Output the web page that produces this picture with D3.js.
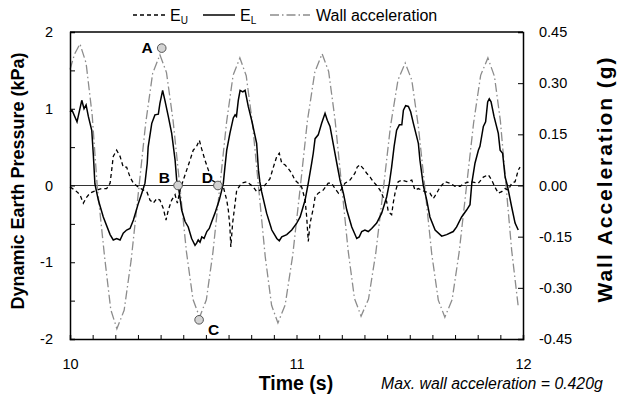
<!DOCTYPE html>
<html><head><meta charset="utf-8">
<script src="https://cdn.jsdelivr.net/npm/d3@7"></script>
<style>
body{margin:0;background:#fff;}
svg text{font-family:Arial,"Liberation Sans",sans-serif;}
</style></head>
<body><svg id="c" width="618" height="408"></svg>
<script>
// ---- data ----
const accTime = [10.000,10.020,10.044,10.071,10.098,10.120,10.153,10.180,10.207,10.239,10.270,10.302,10.334,10.365,10.397,10.426,10.455,10.485,10.514,10.543,10.572,10.602,10.631,10.661,10.691,10.720,10.750,10.778,10.806,10.834,10.862,10.890,10.918,10.950,10.983,11.016,11.048,11.081,11.113,11.142,11.170,11.199,11.228,11.256,11.285,11.318,11.350,11.383,11.415,11.448,11.480,11.509,11.538,11.568,11.597,11.626,11.655,11.687,11.718,11.750,11.782,11.813,11.845,11.874,11.900,11.925,11.950,11.979];
const accVal = [0.34,0.385,0.415,0.359,0.206,0.0,-0.211,-0.364,-0.42,-0.366,-0.219,-0.02,0.182,0.329,0.383,0.331,0.191,-0.002,-0.194,-0.334,-0.386,-0.335,-0.196,-0.006,0.184,0.323,0.374,0.322,0.180,-0.015,-0.209,-0.351,-0.403,-0.350,-0.206,-0.009,0.189,0.333,0.386,0.334,0.194,0.002,-0.191,-0.331,-0.383,-0.333,-0.198,-0.012,0.174,0.309,0.359,0.309,0.173,-0.014,-0.200,-0.336,-0.386,-0.335,-0.196,-0.006,0.184,0.323,0.374,0.32,0.19,0.0,-0.19,-0.355];

const elTime = [10.000,10.009,10.031,10.052,10.062,10.071,10.081,10.096,10.103,10.110,10.125,10.147,10.177,10.191,10.206,10.221,10.235,10.250,10.265,10.280,10.302,10.317,10.331,10.341,10.345,10.361,10.375,10.390,10.397,10.409,10.419,10.434,10.449,10.464,10.471,10.478,10.493,10.508,10.522,10.537,10.552,10.559,10.566,10.574,10.582,10.592,10.604,10.615,10.626,10.640,10.659,10.670,10.677,10.684,10.692,10.706,10.721,10.729,10.735,10.743,10.751,10.763,10.773,10.787,10.802,10.824,10.832,10.838,10.846,10.868,10.891,10.913,10.924,10.935,10.957,10.979,11.001,11.016,11.038,11.052,11.067,11.074,11.082,11.096,11.111,11.126,11.136,11.148,11.163,11.178,11.192,11.207,11.222,11.244,11.266,11.277,11.288,11.302,11.317,11.332,11.354,11.376,11.398,11.410,11.420,11.431,11.442,11.454,11.465,11.472,11.482,11.494,11.504,11.516,11.538,11.545,11.560,11.575,11.589,11.612,11.641,11.663,11.692,11.707,11.729,11.751,11.766,11.774,11.788,11.803,11.810,11.825,11.835,11.844,11.851,11.859,11.872,11.891,11.899,11.910,11.921,11.931,11.950,11.965,11.979];
const elVal = [0.96,0.98,0.83,1.11,1.00,1.05,0.90,0.72,0.40,0.02,-0.19,-0.41,-0.64,-0.71,-0.69,-0.71,-0.62,-0.58,-0.56,-0.45,-0.23,-0.10,0.03,0.29,0.50,0.81,0.92,0.93,1.07,1.24,1.11,0.90,0.68,0.33,0.07,0.00,-0.32,-0.47,-0.54,-0.69,-0.78,-0.75,-0.71,-0.74,-0.67,-0.69,-0.60,-0.56,-0.47,-0.36,-0.19,-0.06,0.03,0.24,0.46,0.68,0.88,0.92,0.90,1.11,1.24,1.22,1.24,1.03,0.85,0.55,0.20,0.05,-0.08,-0.36,-0.58,-0.69,-0.72,-0.67,-0.64,-0.58,-0.49,-0.41,-0.19,0.03,0.29,0.42,0.61,0.66,0.81,0.94,0.85,0.77,0.53,0.29,0.07,-0.10,-0.32,-0.54,-0.69,-0.67,-0.60,-0.58,-0.60,-0.56,-0.49,-0.36,-0.15,0.03,0.24,0.51,0.72,0.79,0.79,0.98,1.04,1.03,0.96,0.81,0.55,0.33,0.00,-0.19,-0.41,-0.58,-0.66,-0.64,-0.60,-0.54,-0.41,-0.32,-0.25,0.03,0.29,0.46,0.51,0.77,0.83,1.09,1.13,1.09,0.90,0.68,0.46,0.42,0.11,0.00,-0.28,-0.49,-0.58];

const euTime = [10.000,10.022,10.044,10.059,10.074,10.088,10.103,10.118,10.140,10.162,10.177,10.184,10.191,10.206,10.221,10.235,10.250,10.265,10.280,10.302,10.324,10.339,10.353,10.368,10.383,10.397,10.412,10.424,10.434,10.449,10.464,10.474,10.486,10.500,10.515,10.530,10.544,10.559,10.571,10.581,10.596,10.611,10.626,10.648,10.677,10.692,10.699,10.706,10.710,10.718,10.729,10.736,10.758,10.780,10.802,10.809,10.824,10.839,10.853,10.868,10.883,10.898,10.913,10.924,10.935,10.949,10.964,10.979,10.993,11.008,11.023,11.038,11.045,11.052,11.060,11.074,11.082,11.096,11.118,11.140,11.155,11.170,11.185,11.200,11.214,11.236,11.258,11.268,11.280,11.295,11.310,11.325,11.339,11.354,11.369,11.383,11.398,11.405,11.420,11.427,11.435,11.449,11.465,11.487,11.509,11.523,11.538,11.553,11.567,11.589,11.604,11.619,11.634,11.656,11.678,11.700,11.722,11.744,11.766,11.803,11.825,11.847,11.862,11.876,11.891,11.906,11.921,11.935,11.950,11.965,11.979,11.987];
const euVal = [-0.02,-0.06,-0.12,-0.23,-0.15,-0.10,-0.08,-0.06,-0.04,-0.04,0.03,0.20,0.38,0.46,0.38,0.24,0.24,0.11,0.03,-0.02,-0.06,-0.08,-0.19,-0.23,-0.17,-0.19,-0.30,-0.45,-0.32,-0.19,-0.12,-0.23,-0.06,0.07,0.20,0.33,0.46,0.51,0.59,0.48,0.33,0.20,0.07,0.03,-0.02,-0.19,-0.32,-0.54,-0.80,-0.49,-0.23,-0.06,0.03,0.05,0.00,-0.02,-0.08,-0.06,-0.02,0.03,0.09,0.24,0.38,0.42,0.29,0.27,0.22,0.16,0.07,0.03,-0.02,-0.19,-0.41,-0.73,-0.49,-0.30,-0.15,-0.10,-0.06,0.03,0.03,-0.04,-0.10,-0.04,0.03,0.07,0.16,0.24,0.27,0.22,0.16,0.11,0.05,0.00,-0.06,-0.15,-0.21,-0.34,-0.38,-0.23,-0.10,0.05,0.07,0.05,0.07,-0.06,-0.04,-0.06,-0.08,-0.10,-0.17,-0.10,-0.02,0.05,0.03,-0.01,-0.01,0.03,0.05,0.03,0.11,0.14,0.07,-0.02,-0.10,-0.08,-0.04,-0.06,0.03,0.05,0.20,0.24];

const markerNames = ["A","B","C","D"];
const markerTime = [10.405,10.477,10.570,10.653];
const markerPressure = [1.79,0,-1.75,0];

const leftTicks = [-2,-1.5,-1,-0.5,0,0.5,1,1.5,2];
const leftLabels = [-2,-1,0,1,2];
const rightTicks = [-0.45,-0.30,-0.15,0,0.15,0.30,0.45];
const xTicks = [10,10.1,10.2,10.3,10.4,10.5,10.6,10.7,10.8,10.9,11,11.1,11.2,11.3,11.4,11.5,11.6,11.7,11.8,11.9,12];
const xLabels = [10,11,12];

// ---- layout ----
const L=70,R=523,T=32,B=339;
const svg=d3.select("#c");
const x=d3.scaleLinear().domain([10,12]).range([L,R]);
const yL=d3.scaleLinear().domain([-2,2]).range([B,T]);
const yR=d3.scaleLinear().domain([-0.45,0.45]).range([B,T]);

// zero line
svg.append("line").attr("x1",L).attr("x2",R).attr("y1",yL(0)).attr("y2",yL(0))
  .attr("stroke","#333").attr("stroke-width",1.2);

const lineL=d3.line().x(d=>x(d[0])).y(d=>yL(d[1]));
const lineR=d3.line().x(d=>x(d[0])).y(d=>yR(d[1]));

svg.append("path").datum(accTime.map((t,i)=>[t,accVal[i]])).attr("d",lineR)
  .attr("fill","none").attr("stroke","#8c8c8c").attr("stroke-width",1.3).attr("stroke-dasharray","9,3,1.5,3");
svg.append("path").datum(euTime.map((t,i)=>[t,euVal[i]])).attr("d",lineL)
  .attr("fill","none").attr("stroke","#000").attr("stroke-width",1.3).attr("stroke-dasharray","4,3");
svg.append("path").datum(elTime.map((t,i)=>[t,elVal[i]])).attr("d",lineL)
  .attr("fill","none").attr("stroke","#000").attr("stroke-width",1.5);

// axes
const fmtAx=g=>{g.selectAll(".domain").attr("stroke","#000").attr("stroke-width",1.5);
  g.selectAll(".tick line").attr("stroke","#000").attr("stroke-width",1);
  g.selectAll("text").attr("font-family","Arial, 'Liberation Sans', sans-serif").attr("font-size","14.5px").attr("fill","#000");};

svg.append("g").attr("transform",`translate(${L},0)`)
  .call(d3.axisLeft(yL).tickValues(leftTicks).tickSize(-5).tickPadding(17)
    .tickFormat(d=>leftLabels.includes(d)?String(d).replace("\u2212","-"):"")).call(fmtAx);
svg.append("g").attr("transform",`translate(${R},0)`)
  .call(d3.axisRight(yR).tickValues(rightTicks).tickSize(-5).tickPadding(16)
    .tickFormat(d=>d.toFixed(2))).call(fmtAx);
svg.append("g").attr("transform",`translate(0,${B})`)
  .call(d3.axisBottom(x).tickValues(xTicks).tickSize(-4).tickPadding(19.5)
    .tickFormat(d=>xLabels.includes(d)?String(d):"")).call(fmtAx);
svg.append("line").attr("x1",L).attr("x2",R).attr("y1",T).attr("y2",T).attr("stroke","#000").attr("stroke-width",1.5);

// markers
const mk=svg.append("g");
markerNames.forEach((n,i)=>{
  mk.append("circle").attr("cx",x(markerTime[i])).attr("cy",yL(markerPressure[i])).attr("r",4.3)
    .attr("fill","#d3d3d3").attr("stroke","#555").attr("stroke-width",1);
});
const lbl=[[-9,5,"end"],[-8,-3,"end"],[9,15,"start"],[-5,-3,"end"]];
markerNames.forEach((n,i)=>{
  mk.append("text").attr("x",x(markerTime[i])+lbl[i][0]).attr("y",yL(markerPressure[i])+lbl[i][1])
    .attr("text-anchor",lbl[i][2]).attr("font-weight","bold").attr("font-size","15.5px").text(n);
});

// axis titles
svg.append("text").attr("transform","translate(24,181) rotate(-90)").attr("text-anchor","middle")
  .attr("font-weight","bold").attr("font-size","18px").text("Dynamic Earth Pressure (kPa)");
svg.append("text").attr("transform","translate(612,180) rotate(-90)").attr("text-anchor","middle")
  .attr("font-weight","bold").attr("font-size","21px").attr("textLength",245).attr("lengthAdjust","spacing")
  .text("Wall Acceleration (g)");
svg.append("text").attr("x",296).attr("y",390).attr("text-anchor","middle")
  .attr("font-weight","bold").attr("font-size","19.5px").text("Time (s)");
svg.append("text").attr("x",381).attr("y",389).attr("font-style","italic")
  .attr("font-size","15.8px").text("Max. wall acceleration = 0.420g");

// legend
const lg=svg.append("g");
const items=[{x1:133,x2:165,dash:"4,3",col:"#000",w:1.3,tx:170,t:"E",sub:"U"},
             {x1:203,x2:235,dash:null,col:"#000",w:1.5,tx:240,t:"E",sub:"L"},
             {x1:270,x2:310,dash:"9,3,1.5,3",col:"#8c8c8c",w:1.3,tx:316,t:"Wall acceleration",sub:null}];
items.forEach(it=>{
  lg.append("line").attr("x1",it.x1).attr("x2",it.x2).attr("y1",15).attr("y2",15)
    .attr("stroke",it.col).attr("stroke-width",it.w).attr("stroke-dasharray",it.dash);
  const t=lg.append("text").attr("x",it.tx).attr("y",21).attr("font-size","16px").text(it.t);
  if(it.sub) t.append("tspan").attr("font-size","10px").attr("dy",3).text(it.sub);
});
</script></body></html>
